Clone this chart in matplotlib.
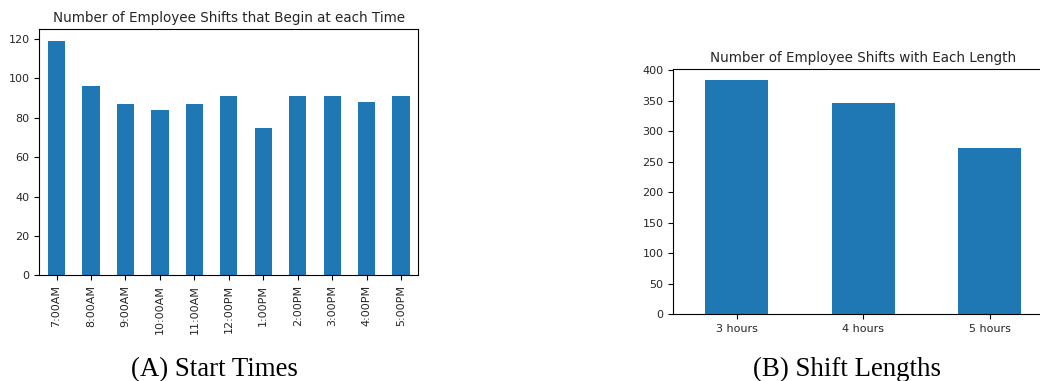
import matplotlib
matplotlib.use("Agg")
import matplotlib.pyplot as plt

start_times = ["7:00AM", "8:00AM", "9:00AM", "10:00AM", "11:00AM", "12:00PM",
               "1:00PM", "2:00PM", "3:00PM", "4:00PM", "5:00PM"]
start_counts = [119, 96, 87, 84, 87, 91, 75, 91, 91, 88, 91]

shift_lengths = ["3 hours", "4 hours", "5 hours"]
length_counts = [383, 346, 272]

W, H = 1040, 381
fig = plt.figure(figsize=(W / 100, H / 100), dpi=100)

def frac(x0, x1, ytop, ybot):
    return [x0 / W, 1 - ybot / H, (x1 - x0) / W, (ybot - ytop) / H]

color = "#1f77b4"
tick_fs = 8
title_fs = 9.75
tcol = "#262626"

ax1 = fig.add_axes(frac(39.3, 418.3, 29.3, 275.3))
ax1.bar(range(len(start_times)), start_counts, width=0.5, color=color)
ax1.set_xlim(-0.5, len(start_times) - 0.5)
ax1.set_xticks(range(len(start_times)))
ax1.set_xticklabels(start_times, rotation=90, fontsize=tick_fs)
ax1.tick_params(axis="both", labelsize=tick_fs, labelcolor=tcol)
ax1.set_title("Number of Employee Shifts that Begin at each Time", fontsize=title_fs,
              pad=5, color=tcol)

ax2 = fig.add_axes(frac(673.3, 1053.0, 68.7, 314.0))
ax2.bar(range(len(shift_lengths)), length_counts, width=0.5, color=color)
ax2.set_xlim(-0.5, len(shift_lengths) - 0.5)
ax2.set_xticks(range(len(shift_lengths)))
ax2.set_xticklabels(shift_lengths, fontsize=tick_fs)
ax2.tick_params(axis="both", labelsize=tick_fs, labelcolor=tcol)
ax2.set_yticks(range(0, 401, 50))
ax2.spines["right"].set_visible(False)
ax2.set_title("Number of Employee Shifts with Each Length", fontsize=title_fs, pad=5,
              color=tcol, x=(863.3 - 673.3) / (1053 - 673.3))

fig.text(214 / W, 1 - 376 / H, "(A) Start Times", ha="center", va="baseline",
         family="Liberation Serif", fontsize=19.4)
fig.text(847 / W, 1 - 376 / H, "(B) Shift Lengths", ha="center", va="baseline",
         family="Liberation Serif", fontsize=19.4)

fig.savefig("out.png", dpi=100)
